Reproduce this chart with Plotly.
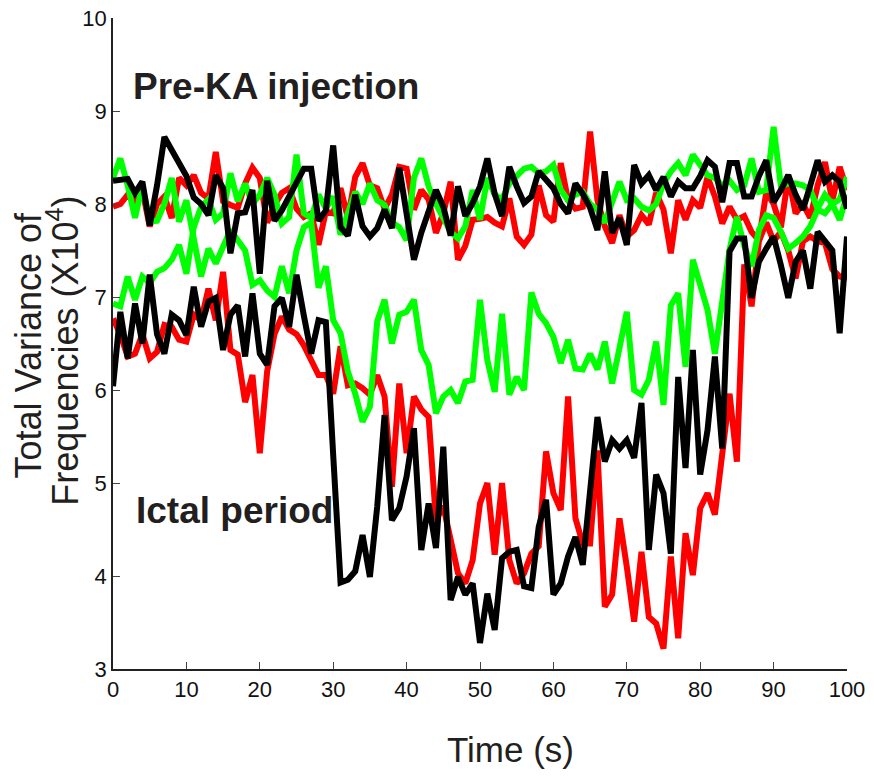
import plotly.graph_objects as go

# Time axis: one sample per second
time_s = list(range(0, 101))

# Total variance of frequencies (x10^4), pre-KA injection recordings
pre_red = [7.97, 8.00, 8.10, 8.02, 8.15, 7.76, 8.00, 8.08, 7.85, 8.28,
           8.20, 8.31, 8.12, 8.06, 8.56, 8.03, 7.99, 7.96, 8.22, 8.39,
           8.28, 7.80, 7.99, 8.12, 8.17, 7.95, 7.86, 7.90, 7.56, 7.92,
           7.90, 8.17, 7.85, 8.29, 8.44, 8.20, 8.17, 7.95, 8.10, 8.40,
           8.38, 7.94, 8.15, 8.05, 7.69, 7.90, 8.24, 7.40, 7.55, 7.83,
           7.84, 7.86, 7.80, 7.76, 8.06, 7.65, 7.56, 7.67, 8.20, 7.88,
           7.81, 8.44, 8.04, 7.95, 7.97, 8.78, 8.04, 7.76, 7.58, 7.88,
           7.65, 7.72, 7.88, 7.78, 8.12, 7.94, 7.47, 8.04, 7.83, 8.04,
           7.96, 8.29, 8.08, 7.79, 7.97, 7.83, 7.87, 7.70, 7.61, 8.13,
           8.00, 7.75, 8.30, 7.90, 8.00, 7.85, 8.20, 8.45, 8.03, 8.40,
           8.15]

pre_green = [8.28, 8.49, 8.20, 7.85, 8.20, 7.81, 7.82, 8.00, 8.28, 7.81,
             8.04, 7.60, 7.22, 7.52, 7.36, 7.54, 7.72, 7.61, 7.50, 7.13,
             7.18, 7.07, 7.00, 7.33, 7.04, 7.50, 7.75, 7.80, 7.10, 7.33,
             6.75, 6.61, 6.20, 5.96, 5.66, 5.82, 6.74, 6.97, 6.50, 6.81,
             6.84, 6.97, 6.43, 6.27, 5.75, 5.93, 6.00, 5.86, 6.09, 6.11,
             6.97, 6.32, 5.98, 6.82, 5.95, 6.14, 6.00, 7.05, 6.82, 6.72,
             6.57, 6.29, 6.54, 6.23, 6.22, 6.39, 6.22, 6.52, 6.07, 6.45,
             6.84, 6.00, 5.95, 6.11, 6.52, 5.84, 6.91, 7.04, 6.25, 7.40,
             7.15, 6.86, 6.39, 6.90, 7.51, 7.86, 7.55, 7.33, 7.72, 7.88,
             7.85, 7.70, 7.52, 7.58, 7.65, 7.76, 7.94, 7.90, 8.00, 7.83,
             8.10]

pre_black = [8.25, 8.26, 8.27, 8.12, 8.24, 7.77, 8.20, 8.72, 8.58, 8.45,
             8.30, 8.07, 8.00, 7.88, 8.31, 8.17, 7.47, 7.90, 7.91, 8.15,
             7.25, 8.25, 7.82, 7.93, 8.09, 8.22, 8.38, 8.38, 7.82, 7.93,
             8.63, 7.75, 7.66, 8.10, 7.76, 7.65, 7.74, 7.94, 7.74, 8.39,
             7.86, 7.40, 7.69, 7.94, 8.15, 7.97, 7.66, 8.19, 7.87, 8.01,
             8.19, 8.49, 8.11, 7.87, 8.40, 8.19, 8.01, 8.08, 8.35, 8.26,
             8.17, 8.00, 7.90, 8.22, 8.11, 7.96, 7.72, 8.35, 7.69, 7.85,
             7.56, 8.42, 8.22, 8.31, 8.15, 8.29, 8.08, 8.24, 8.17, 8.17,
             8.30, 8.47, 8.40, 8.02, 8.44, 8.44, 8.08, 8.08, 8.30, 8.47,
             8.02, 8.15, 8.31, 8.10, 7.94, 8.20, 8.47, 8.24, 8.31, 8.24,
             7.95]

# Ictal period recordings
ictal_red = [6.77, 6.60, 6.36, 6.39, 6.60, 6.34, 6.41, 6.70, 6.68, 6.54,
             6.52, 6.81, 6.75, 7.09, 6.75, 7.27, 6.43, 6.38, 5.87, 6.16,
             5.32, 6.20, 6.60, 6.79, 6.65, 6.60, 6.48, 6.30, 6.16, 6.16,
             5.96, 6.47, 6.05, 6.07, 6.02, 5.95, 6.16, 5.93, 4.96, 6.07,
             5.32, 5.93, 5.79, 5.71, 4.60, 4.75, 4.39, 4.03, 3.92, 4.17,
             4.78, 5.00, 4.23, 5.00, 4.17, 3.92, 4.03, 4.24, 4.32, 5.34,
             4.89, 4.71, 5.93, 4.62, 4.35, 4.35, 5.35, 3.67, 3.80, 4.62,
             4.10, 3.51, 4.26, 3.56, 3.49, 3.22, 4.21, 3.33, 4.46, 4.01,
             4.73, 4.89, 4.66, 5.25, 5.96, 5.23, 7.35, 6.90, 7.60, 7.80,
             7.60, 7.70, 7.50, 7.20, 7.60, 7.65, 7.60, 7.58, 7.30, 7.22,
             7.20]

ictal_green = [6.93, 6.90, 7.22, 6.97, 7.22, 7.15, 7.27, 7.31, 7.40, 7.56,
               7.25, 7.75, 7.97, 8.05, 7.83, 7.90, 8.33, 8.03, 8.22, 8.00,
               8.10, 8.28, 8.10, 7.79, 7.86, 8.53, 7.90, 7.85, 8.10, 7.95,
               8.08, 7.67, 7.90, 8.13, 8.00, 8.22, 8.04, 7.99, 7.80, 7.75,
               7.61, 8.28, 8.49, 8.19, 8.00, 7.85, 7.70, 7.63, 7.76, 8.15,
               7.83, 8.28, 8.10, 8.05, 8.22, 8.30, 8.38, 8.40, 8.33, 8.35,
               8.42, 8.15, 8.04, 8.10, 8.13, 8.00, 7.94, 7.80, 8.00, 8.24,
               8.04, 8.06, 7.97, 7.93, 8.00, 8.22, 8.35, 8.44, 8.31, 8.53,
               8.42, 8.31, 8.28, 8.20, 8.25, 8.15, 8.20, 8.49, 8.13, 8.15,
               8.83, 8.19, 8.22, 8.22, 8.20, 8.15, 7.95, 8.10, 8.00, 8.05,
               8.29]

ictal_black = [6.04, 6.84, 6.34, 6.93, 6.50, 7.24, 6.60, 6.39, 6.81, 6.75,
               6.59, 7.11, 6.68, 6.95, 6.99, 6.43, 6.81, 6.91, 6.36, 7.04,
               6.39, 6.27, 6.90, 6.99, 6.68, 7.24, 6.80, 6.39, 6.75, 6.73,
               5.30, 3.93, 3.96, 4.05, 4.44, 3.99, 4.75, 5.73, 4.60, 4.73,
               5.07, 5.59, 4.28, 4.78, 4.30, 5.39, 3.74, 3.99, 3.80, 3.92,
               3.28, 3.81, 3.42, 4.19, 4.26, 4.28, 3.89, 3.87, 4.53, 4.82,
               3.80, 3.92, 4.21, 4.42, 4.12, 4.93, 5.71, 5.23, 5.46, 5.37,
               5.46, 5.27, 5.86, 4.28, 5.09, 4.89, 4.24, 6.14, 5.16, 6.43,
               5.09, 5.57, 6.36, 5.37, 7.49, 7.63, 7.63, 6.99, 7.38, 7.52,
               7.65, 7.34, 6.99, 7.38, 7.50, 7.09, 7.70, 7.60, 7.50, 6.61,
               7.65]

x_ticks = list(range(0, 101, 10))
y_ticks = list(range(3, 11))

RED = "#ff0000"
GREEN = "#00ff00"
BLACK = "#000000"
TEXT = "#231f20"
LW = 6

fig = go.Figure()
series = [
    (pre_red, RED), (ictal_red, RED),
    (pre_green, GREEN), (ictal_green, GREEN),
    (pre_black, BLACK), (ictal_black, BLACK),
]
for values, color in series:
    fig.add_trace(go.Scatter(
        x=time_s, y=values, mode="lines",
        line=dict(color=color, width=LW, shape="linear"),
        showlegend=False, hoverinfo="skip",
    ))

fig.update_layout(
    width=874, height=776,
    margin=dict(l=113, r=27, t=18, b=107),
    paper_bgcolor="white", plot_bgcolor="white",
    font=dict(family="Liberation Sans, Arial, sans-serif", color="#111111"),
    xaxis=dict(
        range=[0, 100], tickvals=x_ticks, ticktext=[str(v) for v in x_ticks],
        ticks="inside", ticklen=7, tickwidth=1, tickcolor="#444444",
        showline=True, linecolor="#222222", linewidth=1.5,
        showgrid=False, zeroline=False, automargin=False,
        tickfont=dict(size=22, color="#111111"),
    ),
    yaxis=dict(
        range=[3, 10], tickvals=y_ticks, ticktext=[str(v) for v in y_ticks],
        ticks="inside", ticklen=7, tickwidth=1, tickcolor="#444444",
        showline=True, linecolor="#222222", linewidth=1.5,
        showgrid=False, zeroline=False, automargin=False,
        tickfont=dict(size=22, color="#111111"),
    ),
)

# Y-axis title, one rotated annotation per line
fig.add_annotation(
    x=-0.1158, y=0.497, xref="paper", yref="paper",
    xanchor="center", yanchor="middle",
    text="Total Variance of",
    textangle=-90, showarrow=False,
    font=dict(size=36, color=TEXT),
)
fig.add_annotation(
    x=-0.0681, y=0.489, xref="paper", yref="paper",
    xanchor="center", yanchor="middle",
    text="Frequencies (X10<sup>4</sup>)",
    textangle=-90, showarrow=False,
    font=dict(size=36, color=TEXT),
)
# X-axis title
fig.add_annotation(
    x=0.541, y=-0.124, xref="paper", yref="paper",
    xanchor="center", yanchor="middle",
    text="Time (s)", showarrow=False,
    font=dict(size=35, color=TEXT),
)

# Period labels
fig.add_annotation(
    x=22.2, y=9.26, xref="x", yref="y", text="<b>Pre-KA injection</b>",
    showarrow=False, font=dict(size=37, color=TEXT),
)
fig.add_annotation(
    x=16.5, y=4.70, xref="x", yref="y", text="<b>Ictal period</b>",
    showarrow=False, font=dict(size=37, color=TEXT),
)

fig.write_html("out.html")
